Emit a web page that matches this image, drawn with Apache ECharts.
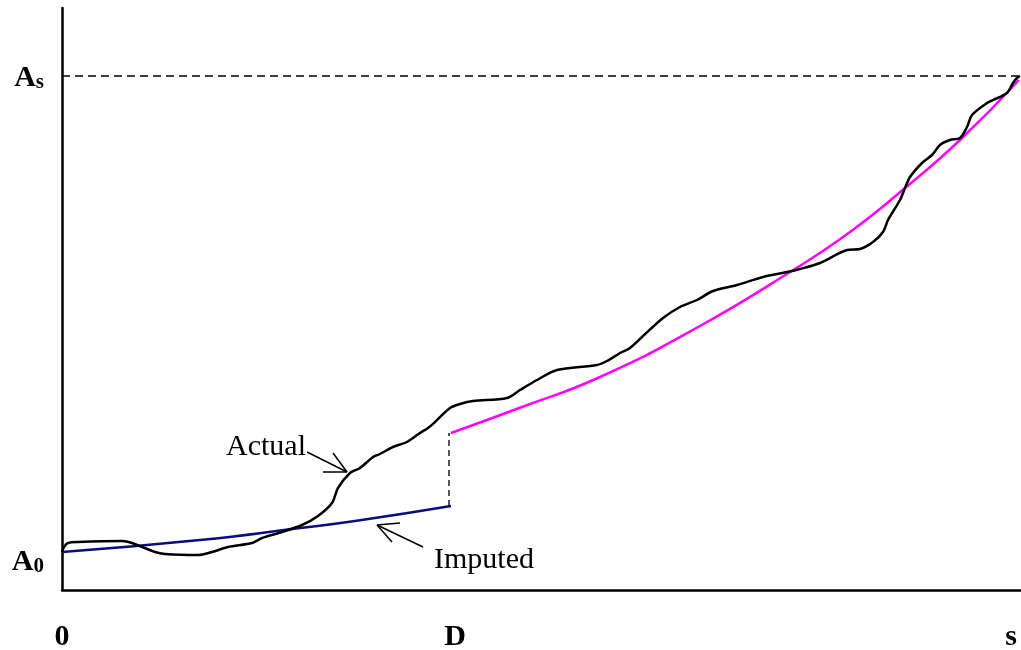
<!DOCTYPE html>
<html>
<head>
<meta charset="utf-8">
<script src="https://cdn.jsdelivr.net/npm/echarts@6/dist/echarts.min.js"></script>
<style>
  html, body { margin: 0; padding: 0; background: #fff; }
  #chart { width: 1021px; height: 650px; }
</style>
</head>
<body>
<div id="chart"></div>
<script>
// x runs from 0 to s, y from the axis up
const actual = [
  [0, 38], [2, 43], [6, 47], [16, 48], [60, 49], [70, 47], [93, 38], [103, 36],
  [136, 35], [150, 38], [166, 43], [190, 47], [200, 52], [220, 58], [240, 65],
  [256, 74], [270, 87], [276, 102], [288, 117], [298, 122], [311, 133], [318, 136],
  [331, 143], [345, 148], [358, 157], [366, 162], [373, 168], [388, 182], [398, 186],
  [411, 189], [445, 192], [458, 200], [475, 210], [495, 220], [535, 225], [545, 229],
  [558, 237], [568, 242], [580, 253], [601, 272], [618, 283], [635, 290], [651, 299],
  [675, 305], [701, 313], [725, 318], [738, 321], [758, 327], [785, 340], [798, 341],
  [811, 348], [821, 358], [826, 370], [838, 390], [843, 402], [848, 413], [860, 427],
  [870, 435], [878, 445], [888, 450], [898, 452], [905, 463], [910, 475], [925, 487],
  [931, 490], [945, 497], [951, 507], [955, 512], [958, 514]
]
const imputed = [[0, 38], [138, 50], [238, 62], [293, 69], [389, 84]]
const projected = [
  [389, 157], [460, 183], [538, 213], [638, 264], [728, 318],
  [788, 358], [843, 402], [898, 450], [957, 510]
]
const gapLine = [[387, 84], [387, 157]]
const asLevel = [[0, 514], [957, 514]]

const xTickValues = [0, 393, 949]
const xTickLabels = ['0', 'D', 's']
const yTickValues = [28, 512]
const yTickLabels = [['A', '0'], ['A', 's']]

const notes = [[204, 143, 'Actual'], [422, 30, 'Imputed']]
const arrows = [
  // Actual arrow: shaft, two arms
  [[245, 138], [285, 118]], [[271, 137], [285, 118]], [[261, 118], [285, 118]],
  // Imputed arrow
  [[361, 43], [315, 65]], [[338, 67], [315, 65]], [[330, 48], [315, 65]]
]

const serif = '"Liberation Serif", "DejaVu Serif", serif'

const chart = echarts.init(document.getElementById('chart'))

const option = {
  animation: false,
  grid: { left: 62, right: 0, top: 8, bottom: 60, outerBoundsMode: 'none', containLabel: false },
  xAxis: {
    type: 'value',
    min: 0,
    max: 959,
    axisLine: { lineStyle: { color: '#000', width: 2.5 } },
    axisTick: { show: false },
    splitLine: { show: false },
    axisLabel: {
      customValues: xTickValues,
      margin: 32,
      color: '#000',
      fontFamily: serif,
      fontWeight: 'bold',
      fontSize: 30,
      formatter: v => xTickLabels[xTickValues.indexOf(v)]
    }
  },
  yAxis: {
    type: 'value',
    min: 0,
    max: 582,
    axisLine: { lineStyle: { color: '#000', width: 2.5 } },
    axisTick: { show: false },
    splitLine: { show: false },
    axisLabel: {
      customValues: yTickValues,
      margin: 18,
      formatter: v => {
        const t = yTickLabels[yTickValues.indexOf(v)]
        return '{a|' + t[0] + '}{sub|' + t[1] + '}'
      },
      rich: {
        a: { fontFamily: serif, fontWeight: 'bold', fontSize: 30, lineHeight: 30, color: '#000' },
        sub: { fontFamily: serif, fontWeight: 'bold', fontSize: 21, lineHeight: 21, color: '#000', verticalAlign: 'bottom' }
      }
    }
  },
  series: [
    {
      name: 'As level',
      type: 'line',
      data: asLevel,
      symbol: 'none',
      lineStyle: { color: '#000', width: 1.5, type: [8, 5] }
    },
    {
      name: 'Gap',
      type: 'line',
      data: gapLine,
      symbol: 'none',
      lineStyle: { color: '#555', width: 2, type: [6, 4] }
    },
    {
      name: 'Imputed',
      type: 'line',
      data: imputed,
      symbol: 'none',
      smooth: true,
      lineStyle: { color: '#0c0c80', width: 2.5 }
    },
    {
      name: 'Projected',
      type: 'line',
      data: projected,
      symbol: 'none',
      smooth: 0.5,
      lineStyle: { color: '#ff00ff', width: 2.5 }
    },
    {
      name: 'Actual',
      type: 'line',
      data: actual,
      symbol: 'none',
      smooth: 0.3,
      lineStyle: { color: '#000', width: 2.5 },
      markLine: {
        silent: true,
        symbol: ['none', 'none'],
        label: { show: false },
        lineStyle: { color: '#000', width: 1.5, type: 'solid' },
        data: arrows.map(a => [{ coord: a[0] }, { coord: a[1] }])
      }
    },
    {
      name: 'Notes',
      type: 'scatter',
      data: notes,
      symbolSize: 0,
      itemStyle: { opacity: 1 },
      label: {
        show: true,
        position: 'inside',
        color: '#000',
        opacity: 1,
        textBorderWidth: 0,
        fontFamily: serif,
        fontSize: 30,
        formatter: p => p.data[2]
      }
    }
  ]
}

chart.setOption(option)
</script>
</body>
</html>
